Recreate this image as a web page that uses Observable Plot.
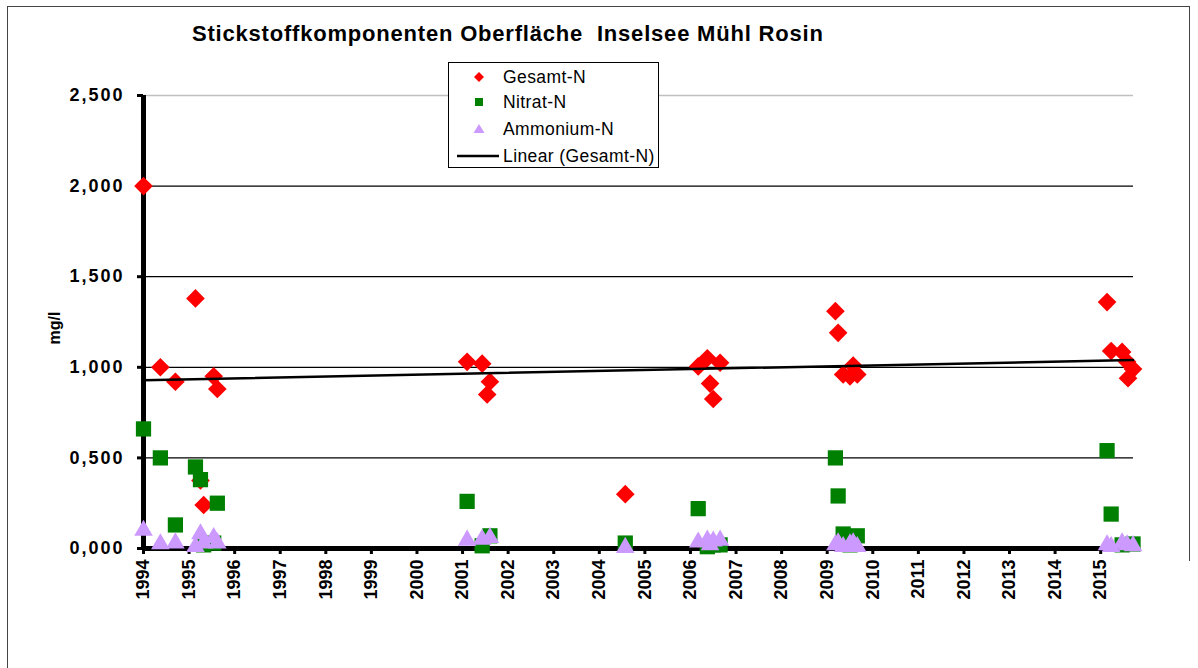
<!DOCTYPE html>
<html>
<head>
<meta charset="utf-8">
<script src="https://cdn.jsdelivr.net/npm/d3@7"></script>
<script src="https://cdn.jsdelivr.net/npm/@observablehq/plot@0.6"></script>
<style>
  html, body { margin: 0; padding: 0; background: #fff; overflow: hidden; }
  #wrap { position: relative; width: 1198px; height: 668px; font-family: "Liberation Sans", Arial, sans-serif; }
  #wrap > svg { position: absolute; left: 0; top: 0; }
  .frame-top { position: absolute; left: 7px; top: 6px; width: 1183px; height: 0; border-top: 1.5px solid #444; }
  .frame-left { position: absolute; left: 7px; top: 6px; width: 0; height: 662px; border-left: 1.5px solid #444; }
  .frame-right { position: absolute; left: 1189px; top: 6px; width: 0; height: 555px; border-left: 1.5px solid #444; }
  #title { position: absolute; left: 192px; top: 21px; font-weight: bold; font-size: 22px; letter-spacing: 0.8px; white-space: pre; color: #000; }
  #ylabel { position: absolute; left: 55px; top: 328px; transform: translate(-50%, -50%) rotate(-90deg); font-weight: bold; font-size: 16px; white-space: pre; }
  #legend { position: absolute; left: 448px; top: 62px; width: 211px; height: 106px; border: 1.5px solid #000; background: #fff; box-sizing: border-box; }
  .ytick text { letter-spacing: 2px; }
</style>
</head>
<body>
<div id="wrap">
  <div class="frame-top"></div>
  <div class="frame-left"></div>
  <div class="frame-right"></div>
</div>
<script>
// ---- data (decimal year, mg/l) ----
const years = d3.range(1994, 2016);
const yTicks = [0, 0.5, 1, 1.5, 2, 2.5];

const gesamtDate  = [1994.00, 1994.37, 1994.70, 1995.14, 1995.25, 1995.32, 1995.54, 1995.62,
                     2001.10, 2001.43, 2001.54, 2001.60, 2004.57,
                     2006.17, 2006.37, 2006.43, 2006.50, 2006.65,
                     2009.18, 2009.24, 2009.35, 2009.50, 2009.57, 2009.66,
                     2015.14, 2015.23, 2015.47, 2015.58, 2015.60, 2015.71];
const gesamtValue = [2.00, 1.00, 0.92, 1.38, 0.375, 0.24, 0.95, 0.88,
                     1.03, 1.02, 0.85, 0.92, 0.30,
                     1.005, 1.05, 0.91, 0.825, 1.025,
                     1.31, 1.19, 0.96, 0.95, 1.01, 0.96,
                     1.36, 1.09, 1.085, 1.03, 0.94, 0.99];

const nitratDate  = [1994.00, 1994.37, 1994.70, 1995.14, 1995.25, 1995.32, 1995.54, 1995.62,
                     2001.10, 2001.43, 2001.60, 2004.57,
                     2006.17, 2006.37, 2006.50, 2006.65,
                     2009.18, 2009.24, 2009.35, 2009.50, 2009.66,
                     2015.14, 2015.23, 2015.47, 2015.71];
const nitratValue = [0.66, 0.50, 0.13, 0.45, 0.38, 0.02, 0.03, 0.25,
                     0.26, 0.015, 0.07, 0.03,
                     0.22, 0.01, 0.02, 0.02,
                     0.50, 0.29, 0.08, 0.02, 0.07,
                     0.54, 0.19, 0.02, 0.025];

const ammonDate   = [1994.00, 1994.37, 1994.70, 1995.14, 1995.25, 1995.32, 1995.54, 1995.62,
                     2001.10, 2001.43, 2001.60, 2004.57,
                     2006.17, 2006.37, 2006.43, 2006.50, 2006.65,
                     2009.18, 2009.24, 2009.35, 2009.50, 2009.57, 2009.66,
                     2015.14, 2015.23, 2015.47, 2015.58, 2015.71];
const ammonValue  = [0.10, 0.025, 0.03, 0.01, 0.08, 0.03, 0.06, 0.03,
                     0.045, 0.05, 0.06, 0.005,
                     0.035, 0.045, 0.02, 0.04, 0.045,
                     0.02, 0.03, 0.01, 0.025, 0.03, 0.01,
                     0.02, 0.01, 0.03, 0.02, 0.015];

const seriesNames = ["Gesamt-N", "Nitrat-N", "Ammonium-N", "Linear (Gesamt-N)"];
const colors = {gesamt: "#FF0000", nitrat: "#008000", ammon: "#CC99FF"};

const titleText = "Stickstoffkomponenten Oberfläche  Inselsee Mühl Rosin";
const yLabelText = "mg/l";

const gesamt = gesamtDate.map((d, i) => ({x: d, y: gesamtValue[i]}));
const nitrat = nitratDate.map((d, i) => ({x: d, y: nitratValue[i]}));
const ammon  = ammonDate.map((d, i) => ({x: d, y: ammonValue[i]}));

const fmt = v => d3.format(".3f")(v).replace(".", ",");

const chart = Plot.plot({
  width: 1198,
  height: 668,
  marginLeft: 143,
  marginTop: 95,
  marginBottom: 120,
  marginRight: 65,
  style: {fontFamily: "'Liberation Sans', Arial, sans-serif", background: "transparent", overflow: "visible"},
  x: {domain: [1994, 2015.72]},
  y: {domain: [0, 2.5]},
  marks: [
    Plot.ruleY([0.5, 1, 1.5, 2], {stroke: "#000", strokeWidth: 1.2}),
    Plot.ruleY([2.5], {stroke: "#c0c0c0", strokeWidth: 1.5}),
    Plot.axisY({ticks: yTicks, tickFormat: fmt, tickSize: 6, tickPadding: 13, fontSize: 18, fontWeight: "bold", strokeWidth: 3, label: null, className: "ytick"}),
    Plot.axisX({ticks: years, tickFormat: d => String(d), tickRotate: -90, tickSize: 6, tickPadding: 5, fontSize: 18, fontWeight: "bold", strokeWidth: 3, label: null}),
    Plot.ruleX([1994], {stroke: "#000", strokeWidth: 5}),
    Plot.ruleY([0], {stroke: "#000", strokeWidth: 5, x1: 1994, x2: 2015.72}),
    Plot.dot(gesamt, {x: "x", y: "y", symbol: "diamond2", r: 8.4, fill: colors.gesamt, stroke: "none"}),
    Plot.dot(nitrat, {x: "x", y: "y", symbol: "square", r: 8.6, fill: colors.nitrat, stroke: "none"}),
    Plot.dot(ammon, {x: "x", y: "y", symbol: "triangle", r: 6.9, fill: colors.ammon, stroke: "none"}),
    Plot.linearRegressionY(gesamt, {x: "x", y: "y", stroke: "#000", strokeWidth: 2.5, ci: 0})
  ]
});

const wrap = document.getElementById("wrap");
wrap.insertBefore(chart, wrap.firstChild);

const title = document.createElement("div");
title.id = "title";
title.textContent = titleText;
wrap.appendChild(title);

const ylab = document.createElement("div");
ylab.id = "ylabel";
ylab.textContent = yLabelText;
wrap.appendChild(ylab);

// legend
const legend = document.createElement("div");
legend.id = "legend";
const ns = "http://www.w3.org/2000/svg";
const lsvg = document.createElementNS(ns, "svg");
lsvg.setAttribute("width", 208);
lsvg.setAttribute("height", 103);
lsvg.style.position = "absolute"; lsvg.style.left = "0"; lsvg.style.top = "0";
const rows = [14, 39, 66, 93];
const symX = 30;
const shapes = [
  `<path d="M${symX},${rows[0]-5} L${symX+5},${rows[0]} L${symX},${rows[0]+5} L${symX-5},${rows[0]} Z" fill="${colors.gesamt}"/>`,
  `<rect x="${symX-4}" y="${rows[1]-4}" width="8" height="8" fill="${colors.nitrat}"/>`,
  `<path d="M${symX},${rows[2]-5} L${symX+5.5},${rows[2]+4} L${symX-5.5},${rows[2]+4} Z" fill="${colors.ammon}"/>`,
  `<line x1="8" x2="50" y1="${rows[3]}" y2="${rows[3]}" stroke="#000" stroke-width="2.5"/>`
];
let inner = shapes.join("");
seriesNames.forEach((s, i) => {
  inner += `<text x="54" y="${rows[i]}" dy="0.36em" font-size="17.5" letter-spacing="0.4" font-family="'Liberation Sans', Arial, sans-serif">${s}</text>`;
});
lsvg.innerHTML = inner;
legend.appendChild(lsvg);
wrap.appendChild(legend);
</script>
</body>
</html>
